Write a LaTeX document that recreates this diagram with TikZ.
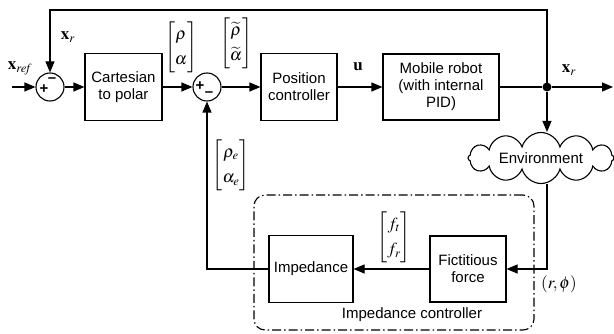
\documentclass[tikz,border=0pt]{standalone}
\usepackage{amsmath}
\usepackage{mathptmx}
\usepackage{fontspec}
\setmainfont{Liberation Sans}
\usetikzlibrary{arrows.meta,shapes.symbols}
\begin{document}
\begin{tikzpicture}[x=1pt,y=-1pt,
  line width=1.1pt,
  >={Triangle[length=11pt,width=9pt]},
  txt/.style={font=\fontsize{15}{17}\selectfont},
  blk/.style={draw, align=center, inner sep=0pt, txt},
  sumc/.style={draw, circle, minimum size=28pt, inner sep=0pt},
  lbl/.style={inner sep=0pt, font=\fontsize{17}{19}\selectfont},
  sgn/.style={inner sep=0pt, font=\fontsize{15}{15}\selectfont\bfseries},
  mat/.style={inner sep=0pt, font=\fontsize{17}{19}\selectfont\renewcommand{\arraystretch}{1.35}}]
\useasboundingbox (0,0) rectangle (614,334);

% dash-dot frame
\node[draw, dash pattern=on 9pt off 3pt on 1.5pt off 3pt, rounded corners=11pt,
      minimum width=280pt, minimum height=135pt, inner sep=0pt] (ic) at (394,262.5) {};
\node[txt, inner sep=0pt] (iclbl) at (412,315) {Impedance controller};

% blocks
\node[sumc] (s1) at (50,87) {};
\node[sumc] (s2) at (207,87) {};
\node[blk, minimum width=77pt, minimum height=67pt] (c2p) at (123.5,87) {Cartesian\\to polar};
\node[blk, minimum width=76pt, minimum height=67pt] (pc) at (299,87) {Position\\controller};
\node[blk, minimum width=116pt, minimum height=66pt] (mr) at (441,87) {Mobile robot\\(with internal\\PID)};
\node[blk, minimum width=76pt, minimum height=66pt] (ff) at (468,269) {Fictitious\\force};
\node[blk, minimum width=84pt, minimum height=67pt] (imp) at (311,269) {Impedance};
\node[cloud, draw, cloud puffs=12, aspect=4.2, minimum width=146pt, minimum height=40pt,
      inner sep=0pt, txt] (env) at (541,158) {Environment};
\node[circle, fill, inner sep=0pt, minimum size=9pt] (j) at (547,87) {};

% signs
\node[sgn] (s1m) at (52,80) {\char"2013};
\node[sgn] (s1p) at (44,89) {+};
\node[sgn] (s2p) at (200,86) {+};
\node[sgn] (s2m) at (209,94) {\char"2013};

% free ends
\coordinate (in) at (12,87);
\coordinate (out) at (613,87);
\coordinate (tr) at (547,10);
\coordinate (tl) at (50,10);

% connectors
\draw[->] (in) -- (s1);
\draw[->] (s1) -- (c2p);
\draw[->] (c2p) -- (s2);
\draw[->] (s2) -- (pc);
\draw[->] (pc) -- (mr);
\draw (mr) -- (j);
\draw[->] (j) -- (out);
\draw[->] (j.center) -- (tr) -- (tl) -- (s1);
\draw[->] (j) -- (j |- env.north);
\draw[->] (env.south -| j) |- (ff.east);
\draw[->] (ff) -- (imp);
\draw[->] (imp.west) -| (s2.south);

% labels
\node[lbl] (lxref) at (20,68) {$\mathbf{x}_{\mathit{ref}}$};
\node[lbl] (lxr1) at (68,37) {$\mathbf{x}_r$};
\node[lbl] (lxr2) at (569,70) {$\mathbf{x}_r$};
\node[lbl] (lu) at (358,67) {$\mathbf{u}$};
\node[mat] (m1) at (181,47) {$\begin{bmatrix}\rho\\ \alpha\end{bmatrix}$};
\node[mat] (m2) at (236,43) {$\begin{bmatrix}\widetilde{\rho}\\ \widetilde{\alpha}\end{bmatrix}$};
\node[mat] (m3) at (231,165) {$\begin{bmatrix}\rho_e\\ \alpha_e\end{bmatrix}$};
\node[mat] (m4) at (394,237) {$\begin{bmatrix}f_t\\ f_r\end{bmatrix}$};
\node[lbl] (lrphi) at (559,284) {$(r,\phi)$};
\end{tikzpicture}
\end{document}
